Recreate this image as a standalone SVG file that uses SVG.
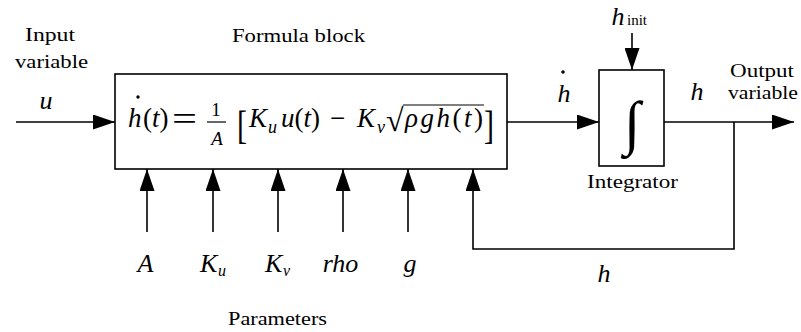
<svg xmlns="http://www.w3.org/2000/svg" width="801" height="332" viewBox="0 0 801 332" font-family="'Liberation Serif', serif">
<defs>
<marker id="ah" markerUnits="userSpaceOnUse" markerWidth="22" markerHeight="15" refX="22" refY="7.5" orient="auto">
<path d="M0,0 L22,7.5 L0,15 z" fill="#000"/>
</marker>
</defs>
<style>
text{fill:#000}
.lbl{font-size:19px}
.it{font-style:italic}
.v{font-size:26px;font-style:italic}
.m{font-size:27px}
.box{fill:#fff;stroke:#000;stroke-width:1.6}
.c{fill:none;stroke:#000;stroke-width:1.6}
.a{marker-end:url(#ah)}
</style>
<rect width="801" height="332" fill="#fff"/>
<g id="connectors">
<path class="c a" d="M16,122 H115"/>
<path class="c a" d="M507,122 H599"/>
<path class="c a" d="M664,122 H794"/>
<path class="c a" d="M632,33 V70"/>
<path class="c a" d="M734,122 V249 H473 V169"/>
<path class="c a" d="M147,232 V169"/>
<path class="c a" d="M213,232 V169"/>
<path class="c a" d="M278,232 V169"/>
<path class="c a" d="M343,232 V169"/>
<path class="c a" d="M408,232 V169"/>
</g>
<g id="formula-block">
<rect class="box" x="115" y="74" width="392" height="95"/>
<text class="m it" x="128" y="127">h</text>
<circle cx="138" cy="97" r="1.7"/>
<text class="m" x="143" y="127">(<tspan class="it">t</tspan>)</text>
<text x="172" y="130" font-size="34" textLength="25" lengthAdjust="spacingAndGlyphs">=</text>
<text x="216" y="116" font-size="19" text-anchor="middle">1</text>
<line x1="207" y1="122" x2="226" y2="122" stroke="#000" stroke-width="1.2"/>
<text x="217" y="145" font-size="19" class="it" text-anchor="middle">A</text>
<text x="237" y="139" font-size="40" textLength="10" lengthAdjust="spacingAndGlyphs">[</text>
<text class="m it" x="249" y="127">K</text>
<text class="it" x="268" y="133" font-size="18">u</text>
<text class="m" x="281" y="127"><tspan class="it">u</tspan>(<tspan class="it">t</tspan>)</text>
<text class="m" x="330" y="127">−</text>
<text class="m it" x="357" y="127">K</text>
<text class="it" x="377" y="133" font-size="18">v</text>
<text x="386" y="131" font-size="32">√</text>
<line x1="403" y1="105" x2="484" y2="105" stroke="#000" stroke-width="1.2"/>
<text class="m" x="405" y="127" textLength="78" lengthAdjust="spacing"><tspan class="it">ρgh</tspan>(<tspan class="it">t</tspan>)</text>
<text x="484" y="139" font-size="40" textLength="10" lengthAdjust="spacingAndGlyphs">]</text>
</g>
<g id="integrator">
<rect class="box" x="599" y="70" width="65" height="96"/>
<text x="632" y="143" font-size="60" font-style="italic" text-anchor="middle">∫</text>
</g>
<g id="labels">
<text class="lbl" x="50" y="41" text-anchor="middle" textLength="50" lengthAdjust="spacingAndGlyphs">Input</text>
<text class="lbl" x="51.5" y="68" text-anchor="middle" textLength="73" lengthAdjust="spacingAndGlyphs">variable</text>
<text class="v" x="46" y="109" text-anchor="middle">u</text>
<text class="lbl" x="298.5" y="42" text-anchor="middle" textLength="133" lengthAdjust="spacingAndGlyphs">Formula block</text>
<text class="v" x="564" y="102" text-anchor="middle">h</text>
<circle cx="563" cy="72" r="1.8"/>
<text class="v" x="618" y="25" text-anchor="middle">h</text>
<text x="627" y="25" font-size="15">init</text>
<text class="v" x="697" y="100" text-anchor="middle">h</text>
<text class="lbl" x="762" y="77" text-anchor="middle" textLength="64" lengthAdjust="spacingAndGlyphs">Output</text>
<text class="lbl" x="763" y="99" text-anchor="middle" textLength="70" lengthAdjust="spacingAndGlyphs">variable</text>
<text class="lbl" x="632.5" y="188" text-anchor="middle" textLength="91" lengthAdjust="spacingAndGlyphs">Integrator</text>
<text class="v" x="604" y="282" text-anchor="middle">h</text>
<text class="v" x="145.5" y="272" text-anchor="middle">A</text>
<text class="v" x="200" y="272">K</text>
<text class="it" x="218" y="276" font-size="16">u</text>
<text class="v" x="265" y="272">K</text>
<text class="it" x="283" y="276" font-size="16">v</text>
<text class="v" x="340.5" y="272" text-anchor="middle">rho</text>
<text class="v" x="410" y="272" text-anchor="middle">g</text>
<text class="lbl" x="277.5" y="325" text-anchor="middle" textLength="99" lengthAdjust="spacingAndGlyphs">Parameters</text>
</g>
</svg>
